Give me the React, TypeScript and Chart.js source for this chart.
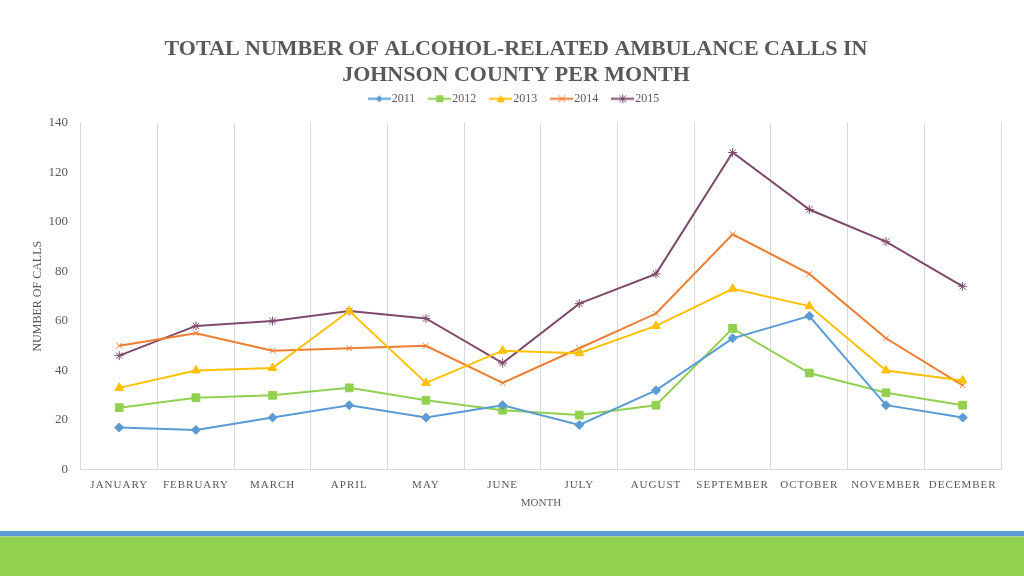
import React, { useEffect, useRef } from "react";
import { Chart, registerables } from "chart.js";

Chart.register(...registerables);

const months = ["JANUARY", "FEBRUARY", "MARCH", "APRIL", "MAY", "JUNE", "JULY", "AUGUST", "SEPTEMBER", "OCTOBER", "NOVEMBER", "DECEMBER"];
const s2011 = [17, 16, 21, 26, 21, 26, 18, 32, 53, 62, 26, 21];
const s2012 = [25, 29, 30, 33, 28, 24, 22, 26, 57, 39, 31, 26];
const s2013 = [33, 40, 41, 64, 35, 48, 47, 58, 73, 66, 40, 36];
const s2014 = [50, 55, 48, 49, 50, 35, 49, 63, 95, 79, 53, 34];
const s2015 = [46, 58, 60, 64, 61, 43, 67, 79, 128, 105, 92, 74];
const seriesNames = ["2011", "2012", "2013", "2014", "2015"];
const seriesColors = ["#5B9BD5", "#92D050", "#FFC000", "#ED7D31", "#7F4A6C"];
const seriesMarkers = ["rectRot", "rect", "triangle", "crossRot", "star"];
const markerSizes = [4.5, 5.5, 5, 4, 4.5];
const yTicks = [0, 20, 40, 60, 80, 100, 120, 140];

const TEXT = "#595959";
const FONT = "'Liberation Serif', serif";

function legendIcon(color: string, style: string): HTMLCanvasElement {
  const W = 23;
  const c = document.createElement("canvas");
  c.width = W;
  c.height = 11;
  const ctx = c.getContext("2d")!;
  ctx.strokeStyle = color;
  ctx.fillStyle = color;
  ctx.lineWidth = 2;
  ctx.beginPath();
  ctx.moveTo(0, 5.5);
  ctx.lineTo(W, 5.5);
  ctx.stroke();
  const cx = W / 2, cy = 5.5, r = 3.5;
  ctx.lineWidth = 1;
  ctx.beginPath();
  if (style === "rectRot") {
    ctx.moveTo(cx, cy - r); ctx.lineTo(cx + r, cy); ctx.lineTo(cx, cy + r); ctx.lineTo(cx - r, cy); ctx.closePath(); ctx.fill();
  } else if (style === "rect") {
    ctx.rect(cx - r, cy - r, 2 * r, 2 * r); ctx.fill();
  } else if (style === "triangle") {
    ctx.moveTo(cx, cy - r - 0.5); ctx.lineTo(cx + r + 0.5, cy + r); ctx.lineTo(cx - r - 0.5, cy + r); ctx.closePath(); ctx.fill();
  } else if (style === "crossRot") {
    ctx.moveTo(cx - r, cy - r); ctx.lineTo(cx + r, cy + r); ctx.moveTo(cx + r, cy - r); ctx.lineTo(cx - r, cy + r); ctx.stroke();
  } else {
    ctx.moveTo(cx - r, cy - r); ctx.lineTo(cx + r, cy + r); ctx.moveTo(cx + r, cy - r); ctx.lineTo(cx - r, cy + r);
    ctx.moveTo(cx, cy - r - 1); ctx.lineTo(cx, cy + r + 1); ctx.stroke();
  }
  return c;
}

const tweakPlugin = {
  id: "tweaks",
  beforeLayout(chart: any) {
    const lg = chart.legend;
    if (lg && !lg.__patched) {
      const f = lg.fit;
      lg.fit = function () {
        f.call(this);
        this.height += 8;
      };
      lg.__patched = true;
    }
  },
  beforeDraw(chart: any) {
    const sc = chart.scales.x;
    if (sc && !sc.__patched) {
      const orig = sc.drawLabels;
      sc.drawLabels = function (area: any) {
        const ctx = this.ctx;
        ctx.save();
        (ctx as any).letterSpacing = "1px";
        orig.call(this, area);
        ctx.restore();
      };
      sc.__patched = true;
    }
  },
};

export default function App() {
  const ref = useRef<HTMLCanvasElement>(null);
  useEffect(() => {
    const all = [s2011, s2012, s2013, s2014, s2015];
    const icons = seriesNames.map((_, i) => legendIcon(seriesColors[i], seriesMarkers[i]));
    const chart = new Chart(ref.current!, {
      type: "line",
      data: {
        labels: months,
        datasets: all.map((d, i) => ({
          label: seriesNames[i],
          data: d,
          borderColor: seriesColors[i],
          backgroundColor: seriesColors[i],
          borderWidth: 2,
          pointStyle: seriesMarkers[i] as any,
          pointRadius: markerSizes[i],
          pointBorderWidth: 1,
          pointBackgroundColor: seriesColors[i],
          pointBorderColor: seriesColors[i],
          tension: 0,
        })),
      },
      options: {
        responsive: false,
        animation: false,
        layout: { padding: { top: 36, left: 31, right: 23, bottom: 18 } },
        plugins: {
          title: {
            display: true,
            text: ["TOTAL NUMBER OF ALCOHOL-RELATED AMBULANCE CALLS IN", "JOHNSON COUNTY PER MONTH"],
            color: TEXT,
            font: { family: FONT, size: 22, weight: "bold", lineHeight: 1.2 },
            padding: { top: 0, bottom: -14 },
          },
          legend: {
            display: true,
            position: "top",
            labels: {
              color: TEXT,
              font: { family: FONT, size: 12 },
              usePointStyle: true,
              pointStyleWidth: 13,
              padding: 18,
              generateLabels: (ch: any) => {
                const items = Chart.defaults.plugins.legend.labels.generateLabels(ch);
                return items.map((it: any, i: number) => ({ ...it, pointStyle: icons[i] }));
              },
            },
          },
          tooltip: { enabled: false },
        },
        scales: {
          x: {
            offset: true,
            grid: { display: true, offset: true, color: "#D9D9D9", drawTicks: false },
            border: { display: true, color: "#D9D9D9" },
            ticks: { color: TEXT, font: { family: FONT, size: 11 }, padding: 9, maxRotation: 0, autoSkip: false },
            title: { display: true, text: "MONTH", color: TEXT, font: { family: FONT, size: 11 }, padding: { top: -4, bottom: 0 } },
          },
          y: {
            min: 0,
            max: 140,
            afterBuildTicks: (axis: any) => { axis.ticks = yTicks.map((v) => ({ value: v })); },
            grid: { display: false, drawTicks: false },
            border: { display: false },
            ticks: { color: TEXT, font: { family: FONT, size: 13 }, padding: 13 },
            title: { display: true, text: "NUMBER OF CALLS", color: TEXT, font: { family: FONT, size: 12 }, padding: { top: 0, bottom: -10 } },
          },
        },
      },
      plugins: [tweakPlugin],
    });
    return () => chart.destroy();
  }, []);
  return (
    <div style={{ position: "absolute", left: 0, top: 0, width: 1024, height: 576, background: "#fff", overflow: "hidden" }}>
      <canvas ref={ref} width={1024} height={528} style={{ display: "block" }} />
      <div style={{ position: "absolute", left: 0, top: 531, width: 1024, height: 5, background: "#5B9BD5" }} />
      <div style={{ position: "absolute", left: 0, top: 536, width: 1024, height: 1, background: "#B4D3A0" }} />
      <div style={{ position: "absolute", left: 0, top: 537, width: 1024, height: 39, background: "#92D050" }} />
    </div>
  );
}
